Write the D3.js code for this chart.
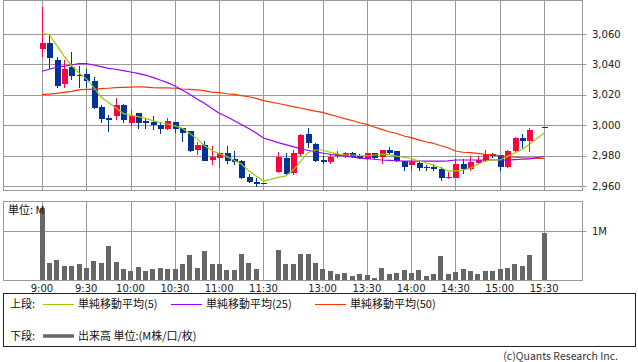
<!DOCTYPE html>
<html><head><meta charset="utf-8">
<script src="https://cdn.jsdelivr.net/npm/d3@7"></script>
<style>body{margin:0;background:#fff;} svg{display:block;}</style>
</head><body><svg id="c" width="638" height="362"></svg>
<script>
const times = ["9:00","9:05","9:10","9:15","9:20","9:25","9:30","9:35","9:40","9:45","9:50","9:55",
"10:00","10:05","10:10","10:15","10:20","10:25","10:30","10:35","10:40","10:45","10:50","10:55",
"11:00","11:05","11:10","11:15","11:20","11:25","11:30",
"12:30","12:35","12:40","12:45","12:50","12:55","13:00","13:05","13:10","13:15","13:20","13:25",
"13:30","13:35","13:40","13:45","13:50","13:55","14:00","14:05","14:10","14:15","14:20","14:25",
"14:30","14:35","14:40","14:45","14:50","14:55","15:00","15:05","15:10","15:15","15:20","15:30"];
const open = [3050,3054,3043,3027,3038.5,3033,3034,3029,3012,3004.5,3006,3013,3001.5,3008,3003,3002,3000,2997.5,3002,2998,2996,2983.5,2987,2977,2978.5,2982,2978,2976.5,2966,2962.5,2962,
2969,2978.5,2968.5,2981,2994,2987.5,2977,2976,2979.5,2979.5,2981.5,2980,2978,2981.5,2979,2983.5,2983,2976.5,2973.5,2975,2972.5,2972.5,2971,2965,2965.5,2974.5,2971,2975,2976.5,2981,2980.5,2972.5,2983,2991.5,2989.5,2999];
const high = [3078,3060,3045,3043,3048,3039,3037,3032,3013,3007,3018,3014,3010,3008,3004.5,3006,3001.5,3004.5,3002,2998,2996,2989,2989.5,2986,2982.5,2986,2983,2977,2968,2965,2962,
2982.5,2982,2983.5,2994.5,2998,2988.5,2979.5,2981,2983,2982.5,2982.5,2981,2982,2982,2984,2985.5,2983,2976.5,2977.5,2976.5,2974,2974.5,2972.5,2969,2977.5,2977.5,2979.5,2979.5,2983.5,2982,2980.5,2983.5,2992,2994,2998,2999];
const low = [3045,3037,3025,3025,3030,3025,3025,3011,3002,2996,3004,3001.5,3000,2998,2998,2997,2994.5,2997.5,2995.5,2989,2982.5,2980.5,2976.5,2974,2972,2975,2974,2965,2962,2960,2962,
2969,2967,2967.5,2980,2985.5,2976,2974.5,2974.5,2978.5,2979,2978.5,2978,2977.5,2978,2974.5,2981.5,2976,2970,2970.5,2970,2970,2970,2963.5,2965,2965.5,2968.5,2970,2975,2976,2979,2970,2972.5,2983,2984.5,2983,2999];
const close = [3054,3044,3025.5,3037,3032.5,3033,3029,3011.5,3004,3004.5,3013,3003.5,3006,3001.5,3001.5,3000,2997.5,3002.5,2997.5,2995,2983,2987,2976.5,2979,2982,2976.5,2976,2965.5,2962.5,2961.5,2962,
2979,2968,2982,2993.5,2988,2976.5,2976,2979,2981,2981.5,2979,2978.5,2981.5,2978.5,2983.5,2982,2976.5,2972.5,2976,2972,2972,2971,2965.5,2966,2974.5,2971,2976,2977,2981,2979.5,2972.5,2983,2991.5,2989.5,2997,2999];
const volume = [1.46,0.35,0.41,0.29,0.29,0.33,0.24,0.39,0.35,0.69,0.37,0.22,0.18,0.27,0.18,0.22,0.24,0.22,0.22,0.33,0.51,0.24,0.59,0.33,0.33,0.20,0.20,0.53,0.35,0.22,0,
0.61,0.33,0.33,0.53,0.53,0.35,0.22,0.18,0.12,0.14,0.08,0.12,0.10,0.04,0.24,0.12,0.14,0.20,0.14,0.20,0.08,0.12,0.49,0.12,0.16,0.22,0.18,0.12,0.18,0.18,0.22,0.24,0.33,0.29,0.51,0.96];
const ma5 = [3060.5,3059.5,3052.5,3045.5,3039.3,3034.5,3030.5,3025,3018.5,3015,3011.5,3007.8,3006.5,3005.6,3004.5,3003,3001.8,3000.8,2999.6,2998,2994.7,2991,2986.5,2983.5,2981.2,2979.5,2977,2974.5,2970,2966.5,2963.3,
2965.7,2966.6,2970.5,2976,2981.9,2983.7,2983.7,2982.2,2981.1,2980.4,2980.4,2979.9,2979.9,2980.4,2980.9,2980.6,2979.7,2978.9,2978.1,2976.6,2975.3,2973.8,2972,2969.9,2969.9,2970.5,2971.8,2974.1,2976.4,2977.1,2977.1,2979.5,2981.5,2984,2987.5,2994.7];
const ma25 = [3035.5,3036.8,3038.1,3038.9,3039.6,3040.5,3040.5,3039.6,3038.5,3037.4,3036.8,3035.9,3035,3034.1,3033,3031.5,3029.7,3028,3025.8,3023.2,3020.3,3017.2,3014.4,3011.1,3007.8,3005.7,3003.1,3000.5,2997.8,2994.9,2991.6,
2988.5,2987.2,2985.9,2984.5,2983.5,2982.5,2981.7,2980.9,2980.2,2979.7,2979.1,2978.4,2978,2977.6,2977.1,2976.9,2976.6,2976.4,2976.4,2976.4,2976.4,2976.4,2976.4,2976.5,2977.1,2977.1,2977.1,2977.1,2977.1,2977.1,2977.1,2977,2977.3,2977.6,2977.9,2979.4];
const ma50 = [3020.1,3020.5,3021,3021.6,3022.3,3023.2,3023.6,3023.6,3024,3024.3,3024.7,3024.9,3025.1,3025.3,3025.1,3024.7,3024.5,3024.5,3024.3,3023.8,3023.6,3023.2,3022.7,3021.8,3021.4,3020.7,3020.3,3019.5,3018.7,3017.6,3016.2,
3014.3,3013.3,3012.2,3011.3,3010.2,3009.3,3008.4,3007,3005.7,3004.3,3003.1,3001.6,3000.5,2998.8,2997.3,2995.7,2994.7,2992.9,2991.8,2990.3,2989.1,2988.1,2986.5,2985.2,2983,2982.2,2981.9,2981.5,2980.9,2980.7,2979.9,2979.3,2978.9,2978.6,2978.4,2978.2];
const priceTicks = [2960,2980,3000,3020,3040,3060];
const volTicks = [1];
const timeTicks = ["9:00","9:30","10:00","10:30","11:00","11:30","13:00","13:30","14:00","14:30","15:00","15:30"];

const C = {up:"#ff0040", down:"#003399", ma5:"#99cc00", ma25:"#9900ff", ma50:"#ff3300", vol:"#666666", grid:"#999999", text:"#222"};

function slotOf(t){const [h,m]=t.split(":").map(Number);const mins=h*60+m;return mins<=690?(mins-540)/5:32+(mins-750)/5;}

const svg = d3.select("#c");
const L=3.5, R=582.5;
const x = d3.scaleLinear().domain([-5.2,73.2]).range([L,R]);
const y = d3.scaleLinear().domain([2960,3060]).range([186,34]);
const PT=0.5, PB=190.5, VT=201.5, VB=280.5;
const vy = d3.scaleLinear().domain([0,1]).range([280,231]);
const px = v=>Math.round(v)+0.5;

const data = times.map((t,i)=>({t,s:slotOf(t),o:open[i],h:high[i],l:low[i],c:close[i],v:volume[i],m5:ma5[i],m25:ma25[i],m50:ma50[i]}));

const g = svg.append("g");
// main grid
const grid = g.append("g").attr("stroke",C.grid).attr("stroke-width",1).attr("fill","none");
priceTicks.forEach(p=>grid.append("line").attr("x1",L).attr("x2",R+4).attr("y1",px(y(p))).attr("y2",px(y(p))));
timeTicks.forEach(t=>{const xx=px(x(slotOf(t)));
  grid.append("line").attr("x1",xx).attr("x2",xx).attr("y1",PT).attr("y2",PB);
  grid.append("line").attr("x1",xx).attr("x2",xx).attr("y1",VT).attr("y2",VB);});
volTicks.forEach(v=>grid.append("line").attr("x1",L).attr("x2",R+4).attr("y1",px(vy(v))).attr("y2",px(vy(v))));
grid.append("rect").attr("x",L).attr("y",PT).attr("width",R-L).attr("height",PB-PT);
grid.append("rect").attr("x",L).attr("y",VT).attr("width",R-L).attr("height",VB-VT);

// axis labels
const lab = g.append("g").attr("font-family","DejaVu Sans, sans-serif").attr("font-size",10).attr("fill",C.text);
priceTicks.forEach(p=>lab.append("text").attr("x",592).attr("y",y(p)).attr("dy","0.36em").text(d3.format(",")(p)));
volTicks.forEach(v=>lab.append("text").attr("x",592).attr("y",vy(v)).attr("dy","0.36em").text(v+"M"));
timeTicks.forEach(t=>lab.append("text").attr("x",x(slotOf(t))).attr("y",291.5).attr("text-anchor","middle").text(t));

// volume bars
g.append("g").attr("shape-rendering","crispEdges").selectAll("rect").data(data.filter(d=>d.v>0)).join("rect")
 .attr("x",d=>Math.round(x(d.s)-2.25)).attr("width",4.5).attr("y",d=>vy(d.v)).attr("height",d=>vy(0)-vy(d.v)).attr("fill",C.vol);
g.append("text").attr("x",8).attr("y",214).attr("font-family","Noto Sans CJK JP, sans-serif").attr("font-size",11).attr("fill","#111").text("単位: M");

// candles
const cg = g.append("g").attr("shape-rendering","crispEdges");
data.forEach(d=>{
  const col = d.c>d.o?C.up:C.down;
  const cx = Math.round(x(d.s));
  cg.append("line").attr("x1",cx+0.5).attr("x2",cx+0.5).attr("y1",y(d.h)).attr("y2",y(d.l)+0.5).attr("stroke",col).attr("stroke-width",1.2);
  const y1=y(Math.max(d.o,d.c)), y2=y(Math.min(d.o,d.c));
  cg.append("rect").attr("x",cx-2.5).attr("width",6).attr("y",y1).attr("height",Math.max(1.2,y2-y1)).attr("fill",col);
});

// moving averages
const ln = k=>d3.line().x(d=>x(d.s)).y(d=>y(d[k]));
[["m50",C.ma50],["m25",C.ma25],["m5",C.ma5]].forEach(([k,c])=>
  g.append("path").datum(data).attr("d",ln(k)).attr("fill","none").attr("stroke",c).attr("stroke-width",1.2));

// legend
const lg = g.append("g").attr("font-family","Noto Sans CJK JP, sans-serif").attr("font-size",11).attr("fill","#111");
lg.append("rect").attr("x",3.5).attr("y",293.5).attr("width",632).attr("height",53).attr("fill","none").attr("stroke","#222");
const row1=304, row2=336;
lg.append("text").attr("x",10).attr("y",row1).attr("dy","0.36em").text("上段:");
[["単純移動平均(5)",C.ma5,43],["単純移動平均(25)",C.ma25,171],["単純移動平均(50)",C.ma50,315]].forEach(([t,c,x0])=>{
  lg.append("line").attr("x1",x0).attr("x2",x0+31).attr("y1",row1+0.5).attr("y2",row1+0.5).attr("stroke",c).attr("stroke-width",1);
  lg.append("text").attr("x",x0+35).attr("y",row1).attr("dy","0.36em").text(t);
});
lg.append("text").attr("x",10).attr("y",row2).attr("dy","0.36em").text("下段:");
lg.append("line").attr("x1",43).attr("x2",74).attr("y1",row2).attr("y2",row2).attr("stroke",C.vol).attr("stroke-width",3.5);
lg.append("text").attr("x",78).attr("y",row2).attr("dy","0.36em").text("出来高 単位:(M株/口/枚)");
g.append("text").attr("x",618).attr("y",360).attr("text-anchor","end").attr("font-family","Noto Sans CJK JP, sans-serif").attr("font-size",10.5).attr("fill","#333").text("(c)Quants Research Inc.");
</script></body></html>
